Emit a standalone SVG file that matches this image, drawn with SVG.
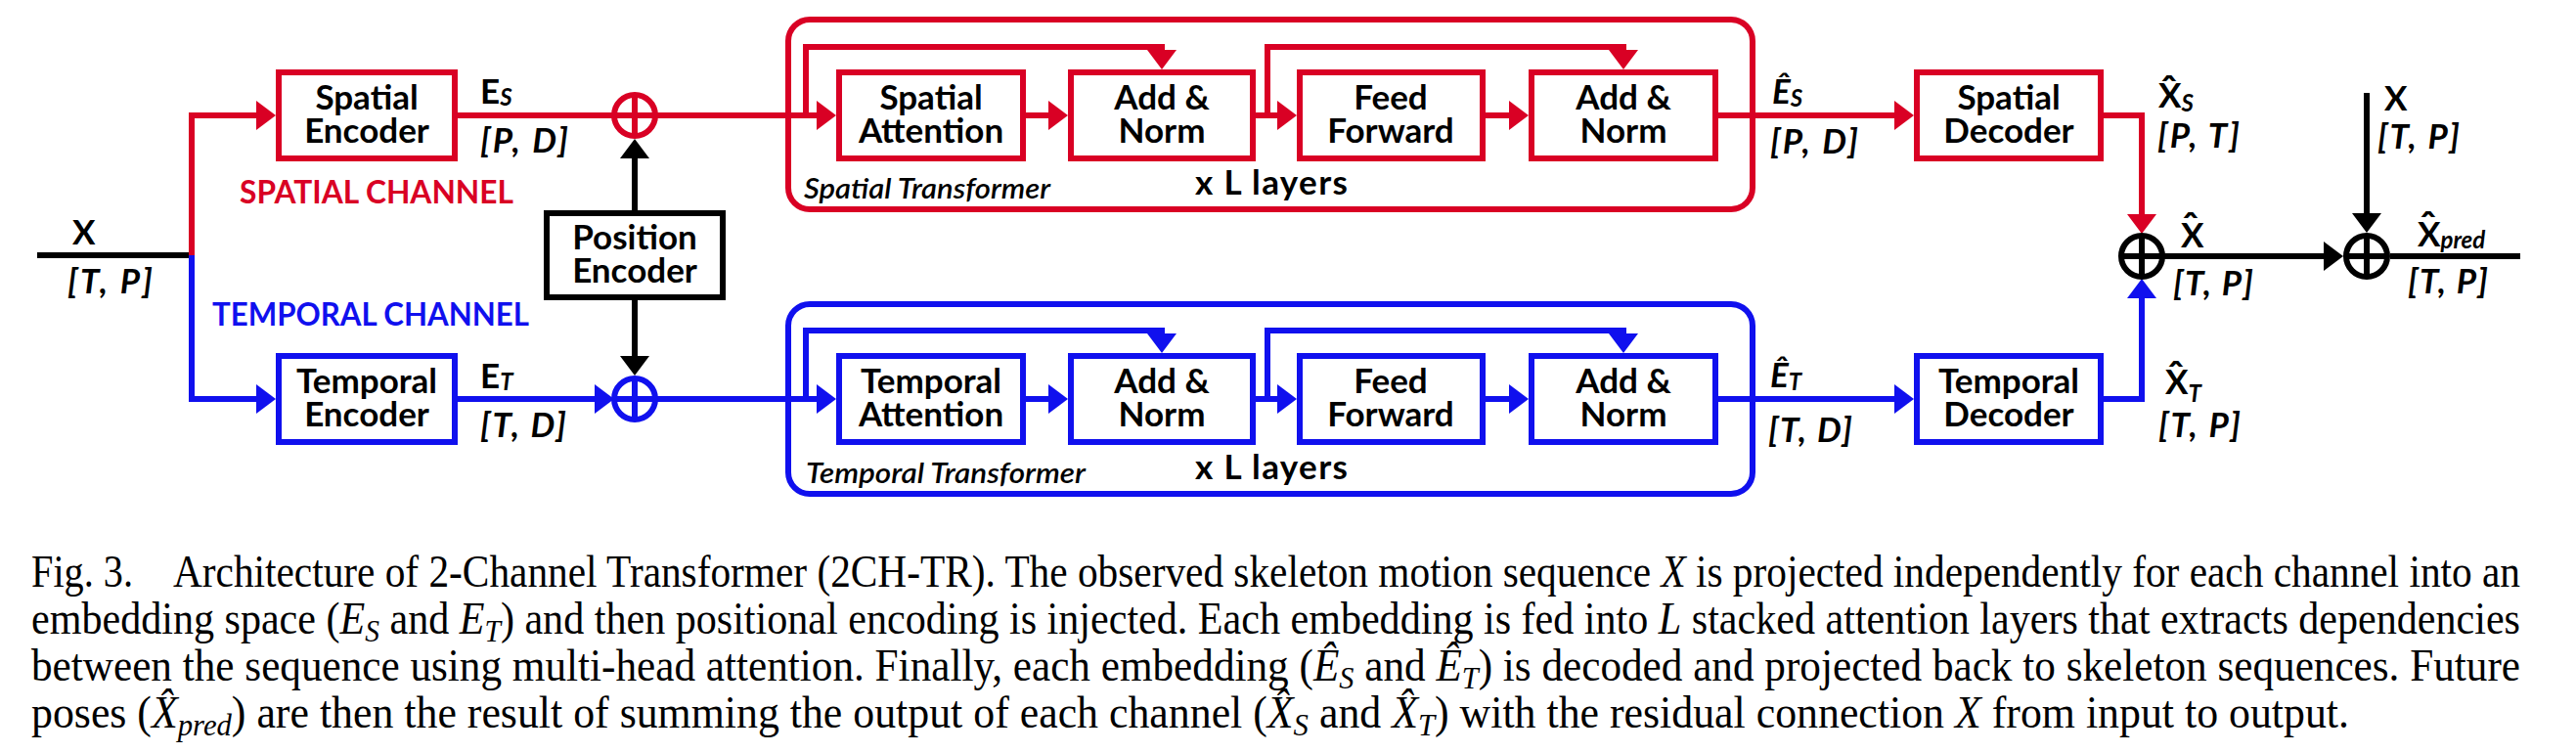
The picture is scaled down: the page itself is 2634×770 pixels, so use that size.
<svg xmlns="http://www.w3.org/2000/svg" width="2634" height="770" viewBox="0 0 2634 770">
<style>
 .bx{fill:#fff;stroke-width:6}
 .ct{fill:none;stroke-width:6}
 .r{stroke:#D90024} .b{stroke:#1010EE} .k{stroke:#000}
 .ln{fill:none;stroke-width:6}
 .t{font-family:Lato,"Liberation Sans",sans-serif;font-weight:bold;font-size:35px;fill:#000}
 .c{text-anchor:middle}
 .it{font-style:italic}
 .sub{font-size:24px;font-style:italic}
 .hat{font-family:Lato,"Liberation Sans",sans-serif;font-weight:bold;font-size:42px;text-anchor:middle}
 .ch{font-family:Lato,"Liberation Sans",sans-serif;font-weight:bold;font-size:32px}
 .tn{font-family:Lato,"Liberation Sans",sans-serif;font-style:italic;font-weight:600;font-size:29px;fill:#000}
 .cap{font-family:"Liberation Serif","Times New Roman",serif;font-size:40px;fill:#000}
 .cs{font-size:28px;font-style:italic}
</style>
<defs>
 <marker id="aR" markerUnits="userSpaceOnUse" markerWidth="20" markerHeight="30" viewBox="0 0 20 30" refX="6" refY="15" orient="auto"><path d="M0,0 L20,15 L0,30 z" fill="#D90024"/></marker>
 <marker id="aB" markerUnits="userSpaceOnUse" markerWidth="20" markerHeight="30" viewBox="0 0 20 30" refX="6" refY="15" orient="auto"><path d="M0,0 L20,15 L0,30 z" fill="#1010EE"/></marker>
 <marker id="aK" markerUnits="userSpaceOnUse" markerWidth="20" markerHeight="30" viewBox="0 0 20 30" refX="6" refY="15" orient="auto"><path d="M0,0 L20,15 L0,30 z" fill="#000"/></marker>
</defs>
<rect width="2634" height="770" fill="#fff"/>

<g id="connectors">
 <path class="ln k" stroke-width="5" d="M38,261 H196"/>
 <path class="ln r" d="M196,261 V118 H268" marker-end="url(#aR)"/>
 <path class="ln r" d="M468,118 H628"/>
 <path class="ln r" d="M670,118 H841" marker-end="url(#aR)"/>
 <path class="ln r" d="M824,118 V48 H1188 V57" marker-end="url(#aR)"/>
 <path class="ln r" d="M1049,118 H1078" marker-end="url(#aR)"/>
 <path class="ln r" d="M1284,118 H1312" marker-end="url(#aR)"/>
 <path class="ln r" d="M1296,118 V48 H1660 V57" marker-end="url(#aR)"/>
 <path class="ln r" d="M1519,118 H1549" marker-end="url(#aR)"/>
 <path class="ln r" d="M1757,118 H1943" marker-end="url(#aR)"/>
 <path class="ln r" d="M2151,118 H2190 V225" marker-end="url(#aR)"/>
 <path class="ln b" d="M196,261 V408 H268" marker-end="url(#aB)"/>
 <path class="ln b" d="M468,408 H614" marker-end="url(#aB)"/>
 <path class="ln b" d="M670,408 H841" marker-end="url(#aB)"/>
 <path class="ln b" d="M824,408 V338 H1188 V347" marker-end="url(#aB)"/>
 <path class="ln b" d="M1049,408 H1078" marker-end="url(#aB)"/>
 <path class="ln b" d="M1284,408 H1312" marker-end="url(#aB)"/>
 <path class="ln b" d="M1296,408 V338 H1660 V347" marker-end="url(#aB)"/>
 <path class="ln b" d="M1519,408 H1549" marker-end="url(#aB)"/>
 <path class="ln b" d="M1757,408 H1943" marker-end="url(#aB)"/>
 <path class="ln b" d="M2151,408 H2190 V299" marker-end="url(#aB)"/>
 <path class="ln k" d="M649,215 V156" marker-end="url(#aK)"/>
 <path class="ln k" d="M649,307 V370" marker-end="url(#aK)"/>
 <path class="ln k" d="M2213,262 H2382" marker-end="url(#aK)"/>
 <path class="ln k" d="M2444,262 H2577"/>
 <path class="ln k" stroke-width="5" d="M2420,95 V224" marker-end="url(#aK)"/>
</g>

<g id="spatial-transformer">
 <rect class="ct r" x="806" y="20" width="986" height="194" rx="22"/>
 <text class="tn" x="822" y="203" textLength="252" lengthAdjust="spacingAndGlyphs">Spatial Transformer</text>
 <text class="t" x="1222" y="199" font-size="33" textLength="156">x L layers</text>
</g>
<g id="temporal-transformer">
 <rect class="ct b" x="806" y="311" width="986" height="194" rx="22"/>
 <text class="tn" x="824" y="494" textLength="286" lengthAdjust="spacingAndGlyphs">Temporal Transformer</text>
 <text class="t" x="1222" y="490" font-size="33" textLength="156">x L layers</text>
</g>

<g id="spatial-encoder"><rect class="bx r" x="285" y="74" width="180" height="88"/>
 <text class="t c"><tspan x="375" y="112">Spatial</tspan><tspan x="375" y="146">Encoder</tspan></text></g>
<g id="temporal-encoder"><rect class="bx b" x="285" y="364" width="180" height="88"/>
 <text class="t c"><tspan x="375" y="402">Temporal</tspan><tspan x="375" y="436">Encoder</tspan></text></g>
<g id="position-encoder"><rect class="bx k" x="559" y="218" width="180" height="86"/>
 <text class="t c"><tspan x="649" y="255">Position</tspan><tspan x="649" y="289">Encoder</tspan></text></g>

<g id="sum-spatial"><circle cx="649" cy="118" r="21" fill="none" stroke-width="6" class="r"/><path class="ln r" d="M649,97 V139 M628,118 H670"/></g>
<g id="sum-temporal"><circle cx="649" cy="408" r="21" fill="none" stroke-width="6" class="b"/><path class="ln b" d="M649,387 V429 M628,408 H670"/></g>

<g id="spatial-attention"><rect class="bx r" x="858" y="74" width="188" height="88"/>
 <text class="t c"><tspan x="952" y="112">Spatial</tspan><tspan x="952" y="146">Attention</tspan></text></g>
<g id="add-norm-s1"><rect class="bx r" x="1095" y="74" width="186" height="88"/>
 <text class="t c"><tspan x="1188" y="112">Add &amp;</tspan><tspan x="1188" y="146">Norm</tspan></text></g>
<g id="feed-forward-s"><rect class="bx r" x="1329" y="74" width="187" height="88"/>
 <text class="t c"><tspan x="1422" y="112">Feed</tspan><tspan x="1422" y="146">Forward</tspan></text></g>
<g id="add-norm-s2"><rect class="bx r" x="1566" y="74" width="188" height="88"/>
 <text class="t c"><tspan x="1660" y="112">Add &amp;</tspan><tspan x="1660" y="146">Norm</tspan></text></g>
<g id="spatial-decoder"><rect class="bx r" x="1960" y="74" width="188" height="88"/>
 <text class="t c"><tspan x="2054" y="112">Spatial</tspan><tspan x="2054" y="146">Decoder</tspan></text></g>

<g id="temporal-attention"><rect class="bx b" x="858" y="364" width="188" height="88"/>
 <text class="t c"><tspan x="952" y="402">Temporal</tspan><tspan x="952" y="436">Attention</tspan></text></g>
<g id="add-norm-t1"><rect class="bx b" x="1095" y="364" width="186" height="88"/>
 <text class="t c"><tspan x="1188" y="402">Add &amp;</tspan><tspan x="1188" y="436">Norm</tspan></text></g>
<g id="feed-forward-t"><rect class="bx b" x="1329" y="364" width="187" height="88"/>
 <text class="t c"><tspan x="1422" y="402">Feed</tspan><tspan x="1422" y="436">Forward</tspan></text></g>
<g id="add-norm-t2"><rect class="bx b" x="1566" y="364" width="188" height="88"/>
 <text class="t c"><tspan x="1660" y="402">Add &amp;</tspan><tspan x="1660" y="436">Norm</tspan></text></g>
<g id="temporal-decoder"><rect class="bx b" x="1960" y="364" width="188" height="88"/>
 <text class="t c"><tspan x="2054" y="402">Temporal</tspan><tspan x="2054" y="436">Decoder</tspan></text></g>

<g id="sum-out"><circle cx="2190" cy="262" r="21" fill="none" stroke-width="6" class="k"/><path class="ln k" d="M2190,241 V283 M2169,262 H2211"/></g>
<g id="sum-pred"><circle cx="2420" cy="262" r="21" fill="none" stroke-width="6" class="k"/><path class="ln k" d="M2420,241 V283 M2399,262 H2441"/></g>

<g id="labels">
 <text class="t" x="74" y="250">X</text>
 <text class="t it" x="69" y="300" textLength="87">[T, P]</text>
 <text class="ch" x="245" y="208" fill="#D90024" textLength="280" lengthAdjust="spacingAndGlyphs">SPATIAL CHANNEL</text>
 <text class="ch" x="217" y="333" fill="#1010EE" textLength="324" lengthAdjust="spacingAndGlyphs">TEMPORAL CHANNEL</text>
 <text class="t" x="491" y="106">E<tspan class="sub" dy="2">S</tspan></text>
 <text class="t it" x="491" y="156" textLength="90">[P, D]</text>
 <text class="t" x="491" y="397">E<tspan class="sub" dy="2">T</tspan></text>
 <text class="t it" x="491" y="447" textLength="88">[T, D]</text>
 <text class="t it" x="1812" y="106">Ê<tspan class="sub" dy="3">S</tspan></text>
 <text class="t it" x="1810" y="157" textLength="90">[P, D]</text>
 <text class="t it" x="1810" y="396">Ê<tspan class="sub" dy="3">T</tspan></text>
 <text class="t it" x="1808" y="452" textLength="86">[T, D]</text>
 <text class="hat" x="2218" y="108">ˆ</text>
 <text class="t" x="2207" y="110">X<tspan class="sub" dy="4">S</tspan></text>
 <text class="t it" x="2206" y="151" textLength="84">[P, T]</text>
 <text class="t" x="2438" y="113">X</text>
 <text class="t it" x="2431" y="152" textLength="84">[T, P]</text>
 <text class="hat" x="2240" y="248">ˆ</text>
 <text class="t" x="2230" y="253">X</text>
 <text class="t it" x="2222" y="302" textLength="82">[T, P]</text>
 <text class="hat" x="2483" y="247">ˆ</text>
 <text class="t" x="2472" y="252">X<tspan class="sub" dy="2">pred</tspan></text>
 <text class="t it" x="2462" y="300" textLength="82">[T, P]</text>
 <text class="hat" x="2225" y="400">ˆ</text>
 <text class="t" x="2214" y="403">X<tspan class="sub" dy="8">T</tspan></text>
 <text class="t it" x="2207" y="447" textLength="84">[T, P]</text>
</g>

<g id="caption">
 <g transform="translate(0,600) scale(1,1.14)">
  <text class="cap" x="32" y="0" textLength="104" lengthAdjust="spacingAndGlyphs">Fig. 3.</text>
  <text class="cap" x="177" y="0" textLength="2400" lengthAdjust="spacingAndGlyphs">Architecture of 2-Channel Transformer (2CH-TR). The observed skeleton motion sequence <tspan font-style="italic">X</tspan> is projected independently for each channel into an</text>
 </g>
 <g transform="translate(0,648) scale(1,1.14)">
  <text class="cap" x="32" y="0" textLength="2545" lengthAdjust="spacingAndGlyphs">embedding space (<tspan font-style="italic">E</tspan><tspan class="cs" dy="7">S</tspan><tspan dy="-7"> and </tspan><tspan font-style="italic">E</tspan><tspan class="cs" dy="7">T</tspan><tspan dy="-7">) and then positional encoding is injected. Each embedding is fed into </tspan><tspan font-style="italic">L</tspan> stacked attention layers that extracts dependencies</text>
 </g>
 <g transform="translate(0,696) scale(1,1.14)">
  <text class="cap" x="32" y="0" textLength="2545" lengthAdjust="spacingAndGlyphs">between the sequence using multi-head attention. Finally, each embedding (<tspan font-style="italic">Ê</tspan><tspan class="cs" dy="7">S</tspan><tspan dy="-7"> and </tspan><tspan font-style="italic">Ê</tspan><tspan class="cs" dy="7">T</tspan><tspan dy="-7">) is decoded and projected back to skeleton sequences. Future</tspan></text>
 </g>
 <g transform="translate(0,744) scale(1,1.14)">
  <text class="cap" x="32" y="0" textLength="2370" lengthAdjust="spacingAndGlyphs">poses (<tspan font-style="italic">X̂</tspan><tspan class="cs" dy="7">pred</tspan><tspan dy="-7">) are then the result of summing the output of each channel (</tspan><tspan font-style="italic">X̂</tspan><tspan class="cs" dy="7">S</tspan><tspan dy="-7"> and </tspan><tspan font-style="italic">X̂</tspan><tspan class="cs" dy="7">T</tspan><tspan dy="-7">) with the residual connection </tspan><tspan font-style="italic">X</tspan> from input to output.</text>
 </g>
</g>
</svg>
